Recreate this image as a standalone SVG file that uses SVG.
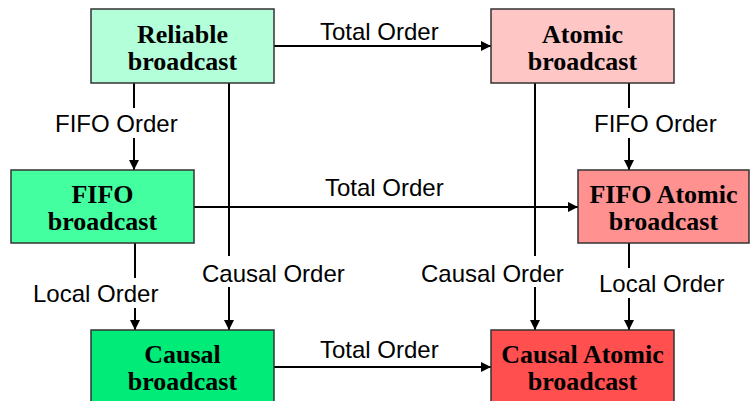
<svg xmlns="http://www.w3.org/2000/svg" width="750" height="401" viewBox="0 0 750 401">
  <style>
    .box { stroke: #333333; stroke-width: 1.5; }
    .name { font-family: "Liberation Serif", "Times New Roman", serif; font-weight: bold; font-size: 26px; text-anchor: middle; fill: #000; }
    .edge { stroke: #000; stroke-width: 2; fill: none; }
    .lbl { font-family: "Liberation Sans", Arial, sans-serif; font-size: 24px; fill: #000; }
  </style>
  <defs>
    <marker id="arrow" markerWidth="10" markerHeight="10" refX="10" refY="5" orient="auto" markerUnits="userSpaceOnUse">
      <path d="M0,0 L10,5 L0,10 Z" fill="#000"/>
    </marker>
  </defs>
  <rect width="750" height="401" fill="#ffffff"/>

  <!-- connectors -->
  <g id="connectors">
    <line class="edge" x1="274" y1="46" x2="491" y2="46" marker-end="url(#arrow)"/>
    <text class="lbl" x="320" y="40">Total Order</text>

    <line class="edge" x1="194" y1="207" x2="578" y2="207" marker-end="url(#arrow)"/>
    <text class="lbl" x="325" y="196">Total Order</text>

    <line class="edge" x1="274" y1="367" x2="491" y2="367" marker-end="url(#arrow)"/>
    <text class="lbl" x="320" y="358">Total Order</text>

    <line class="edge" x1="134" y1="83" x2="134" y2="108"/>
    <line class="edge" x1="134" y1="138" x2="134" y2="170" marker-end="url(#arrow)"/>
    <text class="lbl" x="55" y="132">FIFO Order</text>

    <line class="edge" x1="629" y1="83" x2="629" y2="108"/>
    <line class="edge" x1="629" y1="138" x2="629" y2="170" marker-end="url(#arrow)"/>
    <text class="lbl" x="594" y="132">FIFO Order</text>

    <line class="edge" x1="135" y1="243" x2="135" y2="278"/>
    <line class="edge" x1="135" y1="308" x2="135" y2="330" marker-end="url(#arrow)"/>
    <text class="lbl" x="33" y="302">Local Order</text>

    <line class="edge" x1="629" y1="243" x2="629" y2="268"/>
    <line class="edge" x1="629" y1="298" x2="629" y2="330" marker-end="url(#arrow)"/>
    <text class="lbl" x="599" y="292">Local Order</text>

    <line class="edge" x1="229" y1="83" x2="229" y2="256"/>
    <line class="edge" x1="229" y1="287" x2="229" y2="330" marker-end="url(#arrow)"/>
    <text class="lbl" x="202" y="282">Causal Order</text>

    <line class="edge" x1="535" y1="83" x2="535" y2="256"/>
    <line class="edge" x1="535" y1="287" x2="535" y2="330" marker-end="url(#arrow)"/>
    <text class="lbl" x="421" y="282">Causal Order</text>
  </g>

  <g id="reliable">
    <rect class="box" x="91" y="9" width="183" height="74" fill="#b3ffd9"/>
    <text class="name" x="182.5" y="43">Reliable</text>
    <text class="name" x="182.5" y="70">broadcast</text>
  </g>

  <g id="atomic">
    <rect class="box" x="491" y="9" width="183" height="74" fill="#ffc6c6"/>
    <text class="name" x="582.5" y="43">Atomic</text>
    <text class="name" x="582.5" y="70">broadcast</text>
  </g>

  <g id="fifo">
    <rect class="box" x="11" y="170" width="183" height="73" fill="#44ffa0"/>
    <text class="name" x="102.5" y="203">FIFO</text>
    <text class="name" x="102.5" y="230">broadcast</text>
  </g>

  <g id="fifo-atomic">
    <rect class="box" x="578" y="170" width="171" height="73" fill="#ff9191"/>
    <text class="name" x="663.5" y="203">FIFO Atomic</text>
    <text class="name" x="663.5" y="230">broadcast</text>
  </g>

  <g id="causal">
    <rect class="box" x="91" y="330" width="183" height="80" fill="#00eb78"/>
    <text class="name" x="182.5" y="363">Causal</text>
    <text class="name" x="182.5" y="390">broadcast</text>
  </g>

  <g id="causal-atomic">
    <rect class="box" x="491" y="330" width="183" height="80" fill="#ff4f4f"/>
    <text class="name" x="582.5" y="363">Causal Atomic</text>
    <text class="name" x="582.5" y="390">broadcast</text>
  </g>
</svg>
